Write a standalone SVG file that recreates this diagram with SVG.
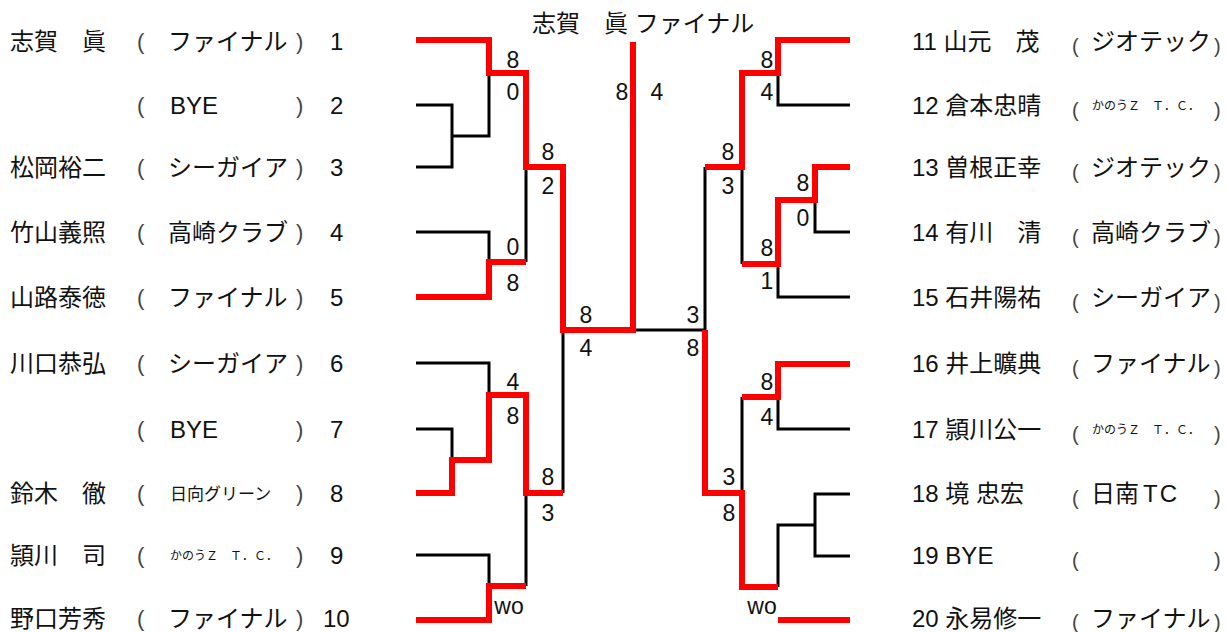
<svg xmlns="http://www.w3.org/2000/svg" width="1226" height="632" viewBox="0 0 1226 632">
<style>
text{font-family:"Liberation Sans","Noto Sans CJK JP",sans-serif;font-size:24px;fill:#111}
.p{font-size:22px;fill:#444}
.q{font-size:20px;fill:#444}
.sm{font-family:"Noto Sans CJK JP",sans-serif;font-size:17px}
.xs{font-family:"Noto Sans CJK JP",sans-serif;font-size:12px}
.s{font-size:23px;text-anchor:middle}
.b{stroke:#000;stroke-width:3;fill:none}
.r{stroke:#f00;stroke-width:6;fill:none;stroke-linejoin:miter}
</style>
<rect width="1226" height="632" fill="#fff"/>
<g id="title"><text x="532" y="32">志賀　眞 ファイナル</text></g>
<g id="players-left">
<g id="p1"><text x="10" y="50">志賀　眞</text><text class="p" x="137" y="49">(</text><text x="168" y="50">ファイナル</text><text class="p" x="296" y="49">)</text><text x="330" y="50">1</text></g>
<g id="p2"><text class="p" x="137" y="113">(</text><text x="170" y="114">BYE</text><text class="p" x="296" y="113">)</text><text x="330" y="114">2</text></g>
<g id="p3"><text x="10" y="176">松岡裕二</text><text class="p" x="137" y="175">(</text><text x="168" y="176">シーガイア</text><text class="p" x="296" y="175">)</text><text x="330" y="176">3</text></g>
<g id="p4"><text x="10" y="241">竹山義照</text><text class="p" x="137" y="240">(</text><text x="168" y="241">高崎クラブ</text><text class="p" x="296" y="240">)</text><text x="330" y="241">4</text></g>
<g id="p5"><text x="10" y="306">山路泰徳</text><text class="p" x="137" y="305">(</text><text x="168" y="306">ファイナル</text><text class="p" x="296" y="305">)</text><text x="330" y="306">5</text></g>
<g id="p6"><text x="10" y="372">川口恭弘</text><text class="p" x="137" y="371">(</text><text x="168" y="372">シーガイア</text><text class="p" x="296" y="371">)</text><text x="330" y="372">6</text></g>
<g id="p7"><text class="p" x="137" y="437">(</text><text x="170" y="438">BYE</text><text class="p" x="296" y="437">)</text><text x="330" y="438">7</text></g>
<g id="p8"><text x="10" y="502">鈴木　徹</text><text class="p" x="137" y="501">(</text><text class="sm" x="170" y="500">日向グリーン</text><text class="p" x="296" y="501">)</text><text x="330" y="502">8</text></g>
<g id="p9"><text x="10" y="564">頴川　司</text><text class="p" x="137" y="563">(</text><text class="xs" x="170" y="560">かのうＺ　Ｔ．Ｃ．</text><text class="p" x="296" y="563">)</text><text x="330" y="564">9</text></g>
<g id="p10"><text x="10" y="627">野口芳秀</text><text class="p" x="137" y="626">(</text><text x="168" y="627">ファイナル</text><text class="p" x="296" y="626">)</text><text x="323" y="627">10</text></g>
</g>
<g id="players-right">
<g id="p11"><text x="912" y="50">11 山元　茂</text><text class="q" x="1072" y="53">(</text><text x="1091" y="50">ジオテック</text><text class="q" x="1214" y="53">)</text></g>
<g id="p12"><text x="912" y="114">12 倉本忠晴</text><text class="q" x="1072" y="117">(</text><text class="xs" x="1092" y="110">かのうＺ　Ｔ．Ｃ．</text><text class="q" x="1214" y="117">)</text></g>
<g id="p13"><text x="912" y="176">13 曽根正幸</text><text class="q" x="1072" y="179">(</text><text x="1091" y="176">ジオテック</text><text class="q" x="1214" y="179">)</text></g>
<g id="p14"><text x="912" y="241">14 有川　清</text><text class="q" x="1072" y="244">(</text><text x="1091" y="241">高崎クラブ</text><text class="q" x="1214" y="244">)</text></g>
<g id="p15"><text x="912" y="306">15 石井陽祐</text><text class="q" x="1072" y="309">(</text><text x="1091" y="306">シーガイア</text><text class="q" x="1214" y="309">)</text></g>
<g id="p16"><text x="912" y="372">16 井上曠典</text><text class="q" x="1072" y="375">(</text><text x="1091" y="372">ファイナル</text><text class="q" x="1214" y="375">)</text></g>
<g id="p17"><text x="912" y="438">17 頴川公一</text><text class="q" x="1072" y="441">(</text><text class="xs" x="1092" y="434">かのうＺ　Ｔ．Ｃ．</text><text class="q" x="1214" y="441">)</text></g>
<g id="p18"><text x="912" y="502">18 境 忠宏</text><text class="q" x="1072" y="505">(</text><text x="1091" y="502">日南<tspan dx="4">T</tspan><tspan dx="2">C</tspan></text><text class="q" x="1214" y="505">)</text></g>
<g id="p19"><text x="912" y="564">19 BYE</text><text class="q" x="1072" y="567">(</text><text class="q" x="1214" y="567">)</text></g>
<g id="p20"><text x="912" y="627">20 永易修一</text><text class="q" x="1072" y="629">(</text><text x="1091" y="627">ファイナル</text><text class="q" x="1214" y="629">)</text></g>
</g>
<g id="connectors">
<path class="b" d="M416,105 H452 V167 H416 M452,136 H489 V73 M416,232 H489 V262 M526,167 V262 M416,363 H489 V395 M416,429 H452 V460 M416,555 H489 V586 M526,586 V493 M563,493 V330 M633,330 H705"/>
<path class="b" d="M705,167 V330 M850,105 H778 V73 M742,167 V264 M850,232 H815 V200 M850,297 H778 V264 M850,429 H778 V397 M742,397 V493 M778,587 V525 H815 M850,494 H815 V556 H850"/>
<path class="r" d="M416,40 H489 V73 H526 V167 H563 V330 H633 V42"/>
<path class="r" d="M416,297 H489 V262 H526"/>
<path class="r" d="M416,493 H452 V460 H489 V395 H526 V493 H563"/>
<path class="r" d="M416,620 H489 V586 H526"/>
<path class="r" d="M850,40 H778 V73 H742 V167 H705"/>
<path class="r" d="M850,167 H815 V200 H778 V264 H742"/>
<path class="r" d="M850,364 H778 V397 H742"/>
<path class="r" d="M705,330 V493 H742 V587 H778"/>
<path class="r" d="M778,620 H850"/>
</g>
<g id="scores">
<text class="s" x="513" y="68">8</text><text class="s" x="513" y="100">0</text>
<text class="s" x="513" y="255">0</text><text class="s" x="513" y="291">8</text>
<text class="s" x="548" y="160">8</text><text class="s" x="548" y="194">2</text>
<text class="s" x="586" y="323">8</text><text class="s" x="586" y="356">4</text>
<text class="s" x="513" y="390">4</text><text class="s" x="513" y="424">8</text>
<text class="s" x="548" y="485">8</text><text class="s" x="548" y="521">3</text>
<text class="s" x="509" y="614">wo</text>
<text class="s" x="622" y="100">8</text><text class="s" x="657" y="100">4</text>
<text class="s" x="767" y="68">8</text><text class="s" x="767" y="100">4</text>
<text class="s" x="728" y="160">8</text><text class="s" x="728" y="194">3</text>
<text class="s" x="803" y="191">8</text><text class="s" x="803" y="226">0</text>
<text class="s" x="767" y="256">8</text><text class="s" x="767" y="289">1</text>
<text class="s" x="693" y="323">3</text><text class="s" x="693" y="356">8</text>
<text class="s" x="767" y="390">8</text><text class="s" x="767" y="425">4</text>
<text class="s" x="729" y="485">3</text><text class="s" x="729" y="521">8</text>
<text class="s" x="762" y="614">wo</text>
</g>
</svg>
